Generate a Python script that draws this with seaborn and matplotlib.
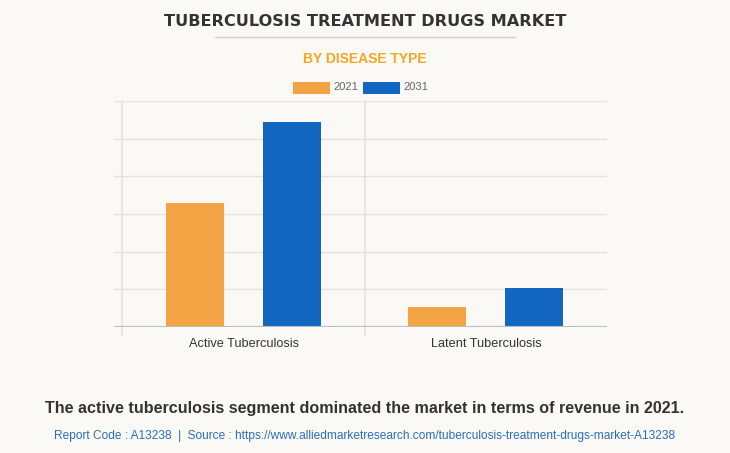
import matplotlib
matplotlib.use("Agg")
import matplotlib.pyplot as plt
import seaborn as sns
import pandas as pd
from matplotlib.patches import Rectangle
from matplotlib.lines import Line2D

categories = ["Active Tuberculosis", "Latent Tuberculosis"]
years = ["2021", "2031"]
values_2021 = [3.30, 0.53]
values_2031 = [5.45, 1.04]

df = pd.DataFrame({
    "category": categories * 2,
    "year": [years[0]] * 2 + [years[1]] * 2,
    "value": values_2021 + values_2031,
})

BG = "#FAF9F5"
ORANGE = "#F2A444"
BLUE = "#1266C1"

sns.set_theme(style="white")
plt.rcParams["font.family"] = ["Liberation Sans", "DejaVu Sans"]

W, H = 730, 453
fig = plt.figure(figsize=(W / 100, H / 100), dpi=100, facecolor=BG)

# axes in pixel coords: left 114, right 607, top 101, bottom 327
ax = fig.add_axes([114 / W, 1 - 327 / H, (607 - 114) / W, (327 - 101) / H])
ax.set_facecolor(BG)

sns.barplot(data=df, x="category", y="value", hue="year", order=categories,
            hue_order=years, palette=[ORANGE, BLUE], width=0.8, gap=0.4,
            saturation=1, ax=ax, legend=False, edgecolor="none")

ax.set_ylim(0, 6)
ax.set_yticks(range(0, 7))
ax.set_xlim(-0.5 - 8.5 / 242.5, 1.5)
ax.yaxis.grid(True, color="#E3E3E3", linewidth=1)
ax.set_axisbelow(True)
for s in ax.spines.values():
    s.set_visible(False)
ax.axhline(0, color="#BDBDBD", linewidth=1.5, zorder=3)
for xv in [-0.5, 0.5]:
    ax.add_line(Line2D([xv, xv], [-8 / 37.7, 6], color="#E6E6E6",
                       linewidth=1.5, clip_on=False, zorder=0.5))
ax.tick_params(axis="y", left=False, labelleft=False)
ax.tick_params(axis="x", bottom=False, labelsize=9.2, labelcolor="#333333", pad=2)
ax.set_xlabel("")
ax.set_ylabel("")

# titles
fig.text(0.5, 1 - 21 / H, "TUBERCULOSIS TREATMENT DRUGS MARKET", ha="center",
         va="center", fontsize=11.6, fontweight="bold", color="#333333",
         family="DejaVu Sans")
fig.add_artist(Line2D([215 / W, 515 / W], [1 - 37 / H, 1 - 37 / H],
                      color="#CFCFCF", linewidth=1))
fig.text(0.5, 1 - 59 / H, "BY DISEASE TYPE", ha="center", va="center",
         fontsize=10, fontweight="bold", color="#F5A623")

# legend
for px, col, lab in [(293, ORANGE, years[0]), (363, BLUE, years[1])]:
    fig.add_artist(Rectangle((px / W, 1 - 94 / H), 37 / W, 12 / H,
                             facecolor=col, edgecolor="none",
                             transform=fig.transFigure))
    fig.text((px + 40) / W, 1 - 87 / H, lab, ha="left", va="center",
             fontsize=8, color="#666666")

fig.text(0.5, 1 - 409 / H,
         "The active tuberculosis segment dominated the market in terms of revenue in 2021.",
         ha="center", va="center", fontsize=11.6, fontweight="bold", color="#333333")
fig.text(0.5, 1 - 436 / H,
         "Report Code : A13238  |  Source : https://www.alliedmarketresearch.com/tuberculosis-treatment-drugs-market-A13238",
         ha="center", va="center", fontsize=8.6, color="#2A6EBB")

fig.savefig("out.png", dpi=100, facecolor=BG)
